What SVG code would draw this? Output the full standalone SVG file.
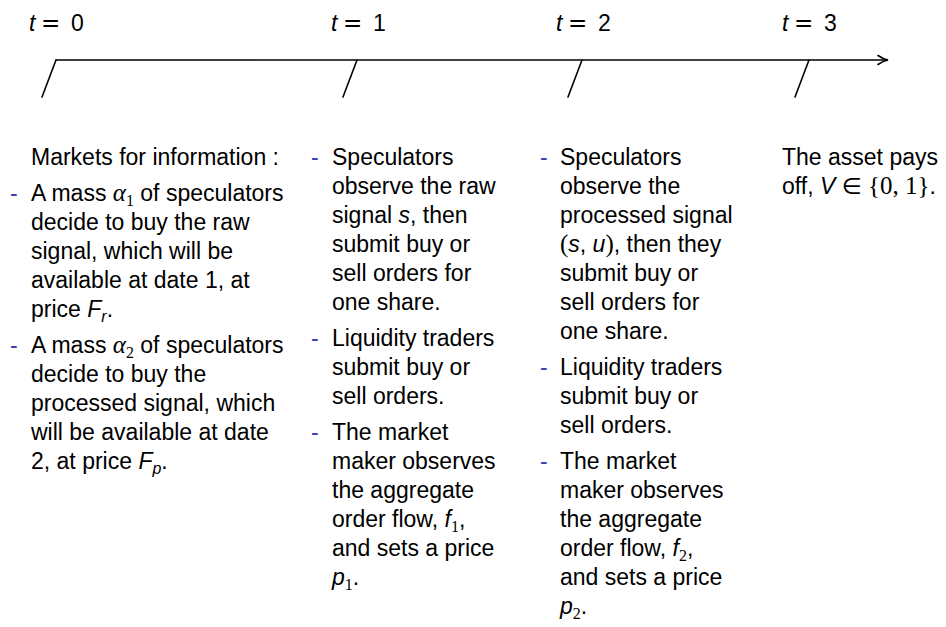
<svg xmlns="http://www.w3.org/2000/svg" width="946" height="627" viewBox="0 0 946 627">
<style>
text{font-family:"Liberation Sans",Arial,sans-serif;font-size:23px;fill:#000}
.d{fill:#3b3bb3}
.i{font-style:italic}
.g{font-family:"Liberation Serif","Times New Roman",serif;font-style:italic;font-size:25px}
.r{font-family:"Liberation Serif","Times New Roman",serif}
.rb{font-family:"Liberation Serif","Times New Roman",serif;font-size:25px}
.m{font-family:"DejaVu Sans",sans-serif}
.sub{font-size:16px}
.ln{stroke:#000;stroke-width:1.6;fill:none;stroke-linecap:round}
</style>
<rect width="946" height="627" fill="#fff"/>
<g id="connectors">
<line class="ln" x1="56" y1="60" x2="886" y2="60"/>
<path class="ln" d="M878,55.5 Q883,59 888,60 Q883,61 878,64.5"/>
<line class="ln" x1="56" y1="60" x2="42" y2="97"/>
<line class="ln" x1="357" y1="60" x2="343" y2="97"/>
<line class="ln" x1="582" y1="60" x2="568" y2="97"/>
<line class="ln" x1="809" y1="60" x2="795" y2="97"/>
</g>
<g id="t0">
<text y="31"><tspan x="29" class="i">t</tspan><tspan x="41" class="m">=</tspan><tspan x="71">0</tspan></text>
<text x="31" y="165">Markets for information :</text>
<text x="10" y="201" class="d">-</text>
<text x="31" y="201">A mass <tspan class="g">α</tspan><tspan class="sub r" dy="5">1</tspan><tspan dy="-5"> of speculators</tspan></text>
<text x="31" y="230">decide to buy the raw</text>
<text x="31" y="259">signal, which will be</text>
<text x="31" y="288">available at date 1, at</text>
<text x="31" y="317">price <tspan class="i">F</tspan><tspan class="sub i" dy="5">r</tspan><tspan dy="-5">.</tspan></text>
<text x="10" y="353" class="d">-</text>
<text x="31" y="353">A mass <tspan class="g">α</tspan><tspan class="sub r" dy="5">2</tspan><tspan dy="-5"> of speculators</tspan></text>
<text x="31" y="382">decide to buy the</text>
<text x="31" y="411">processed signal, which</text>
<text x="31" y="440">will be available at date</text>
<text x="31" y="469">2, at price <tspan class="i">F</tspan><tspan class="sub i" dy="5">p</tspan><tspan dy="-5">.</tspan></text>
</g>
<g id="t1">
<text y="31"><tspan x="331" class="i">t</tspan><tspan x="343" class="m">=</tspan><tspan x="373">1</tspan></text>
<text x="311" y="165" class="d">-</text>
<text x="332" y="165">Speculators</text>
<text x="332" y="194">observe the raw</text>
<text x="332" y="223">signal <tspan class="i">s</tspan>, then</text>
<text x="332" y="252">submit buy or</text>
<text x="332" y="281">sell orders for</text>
<text x="332" y="310">one share.</text>
<text x="311" y="346" class="d">-</text>
<text x="332" y="346">Liquidity traders</text>
<text x="332" y="375">submit buy or</text>
<text x="332" y="404">sell orders.</text>
<text x="311" y="440" class="d">-</text>
<text x="332" y="440">The market</text>
<text x="332" y="469">maker observes</text>
<text x="332" y="498">the aggregate</text>
<text x="332" y="527">order flow, <tspan class="i">f</tspan><tspan class="sub r" dy="5">1</tspan><tspan dy="-5">,</tspan></text>
<text x="332" y="556">and sets a price</text>
<text x="332" y="585"><tspan class="i">p</tspan><tspan class="sub r" dy="5">1</tspan><tspan dy="-5">.</tspan></text>
</g>
<g id="t2">
<text y="31"><tspan x="556" class="i">t</tspan><tspan x="568" class="m">=</tspan><tspan x="598">2</tspan></text>
<text x="540" y="165" class="d">-</text>
<text x="560" y="165">Speculators</text>
<text x="560" y="194">observe the</text>
<text x="560" y="223">processed signal</text>
<text x="560" y="252"><tspan class="rb">(</tspan><tspan class="i">s</tspan>, <tspan class="i">u</tspan><tspan class="rb">)</tspan>, then they</text>
<text x="560" y="281">submit buy or</text>
<text x="560" y="310">sell orders for</text>
<text x="560" y="339">one share.</text>
<text x="540" y="375" class="d">-</text>
<text x="560" y="375">Liquidity traders</text>
<text x="560" y="404">submit buy or</text>
<text x="560" y="433">sell orders.</text>
<text x="540" y="469" class="d">-</text>
<text x="560" y="469">The market</text>
<text x="560" y="498">maker observes</text>
<text x="560" y="527">the aggregate</text>
<text x="560" y="556">order flow, <tspan class="i">f</tspan><tspan class="sub r" dy="5">2</tspan><tspan dy="-5">,</tspan></text>
<text x="560" y="585">and sets a price</text>
<text x="560" y="614"><tspan class="i">p</tspan><tspan class="sub r" dy="5">2</tspan><tspan dy="-5">.</tspan></text>
</g>
<g id="t3">
<text y="31"><tspan x="782" class="i">t</tspan><tspan x="794" class="m">=</tspan><tspan x="824">3</tspan></text>
<text x="782" y="165">The asset pays</text>
<text x="782" y="194">off, <tspan class="i">V</tspan> <tspan class="m">∈</tspan> <tspan class="rb">{0, 1}</tspan>.</text>
</g>
</svg>
